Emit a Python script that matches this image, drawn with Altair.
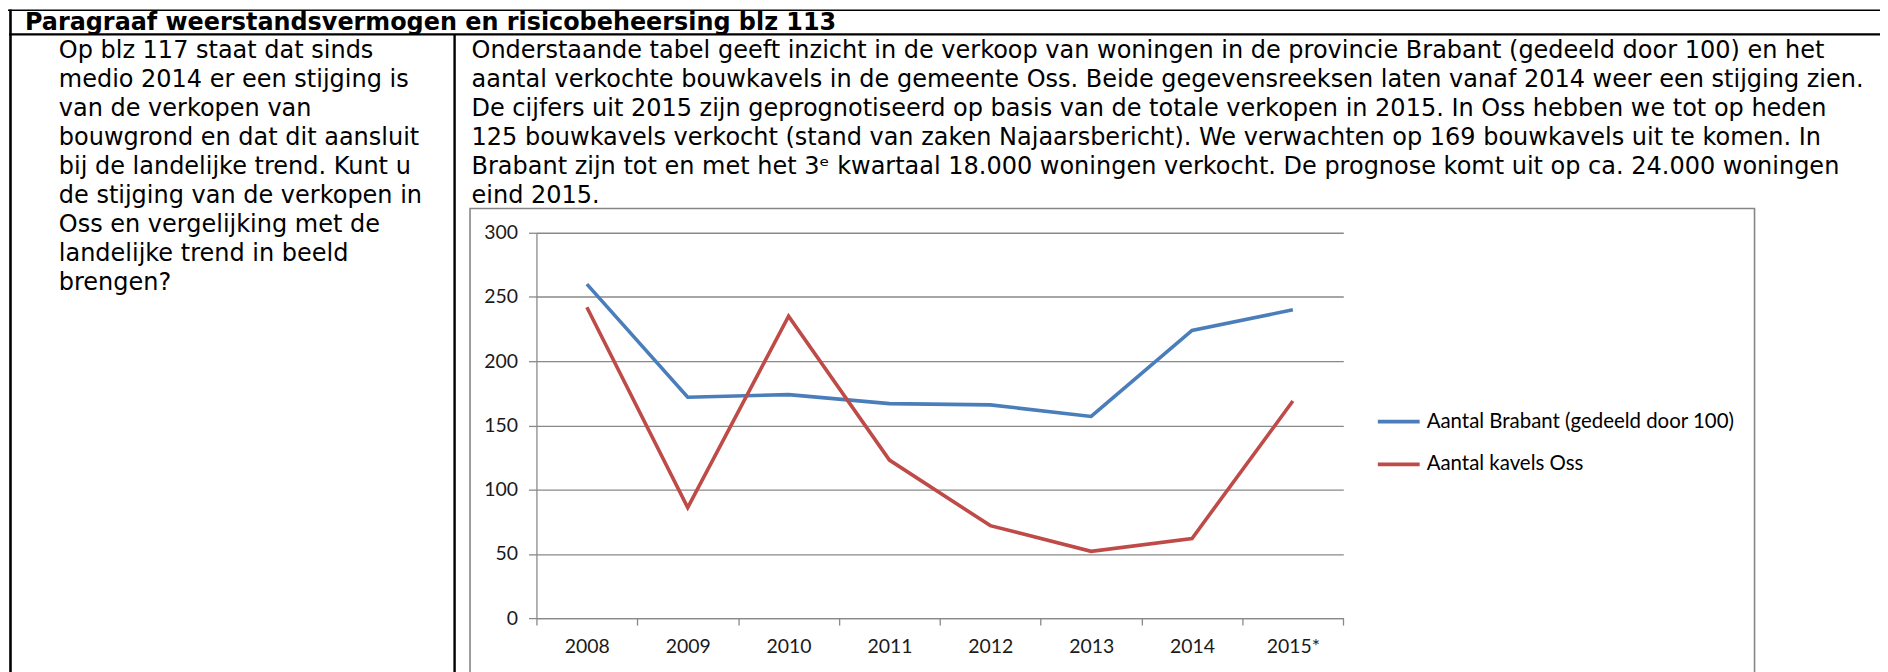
import altair as alt
import pandas as pd

# ---------------- data ----------------
years = ["2008", "2009", "2010", "2011", "2012", "2013", "2014", "2015*"]
brabant = [260, 172, 174, 167, 166, 157, 224, 240]
oss = [242, 86, 235, 123, 72, 52, 62, 169]
series_names = ["Aantal Brabant (gedeeld door 100)", "Aantal kavels Oss"]
y_ticks = [0, 50, 100, 150, 200, 250, 300]

header_text = "Paragraaf weerstandsvermogen en risicobeheersing blz 113"
left_lines = [
    "Op blz 117 staat dat sinds",
    "medio 2014 er een stijging is",
    "van de verkopen van",
    "bouwgrond en dat dit aansluit",
    "bij de landelijke trend. Kunt u",
    "de stijging van de verkopen in",
    "Oss en vergelijking met de",
    "landelijke trend in beeld",
    "brengen?",
]
right_lines = [
    "Onderstaande tabel geeft inzicht in de verkoop van woningen in de provincie Brabant (gedeeld door 100) en het",
    "aantal verkochte bouwkavels in de gemeente Oss. Beide gegevensreeksen laten vanaf 2014 weer een stijging zien.",
    "De cijfers uit 2015 zijn geprognotiseerd op basis van de totale verkopen in 2015. In Oss hebben we tot op heden",
    "125 bouwkavels verkocht (stand van zaken Najaarsbericht). We verwachten op 169 bouwkavels uit te komen. In",
    "Brabant zijn tot en met het 3\u1d49 kwartaal 18.000 woningen verkocht. De prognose komt uit op ca. 24.000 woningen",
    "eind 2015.",
]

# ---------------- layout (page pixels) ----------------
PX0, PY0 = 538.7, 232.3      # plot origin on the page
W, H = 810.3, 387.0          # plot area size
SVG_W, SVG_H = 1880, 664


def px(x):
    return x - PX0


def py(y):
    return y - PY0


BLUE = "#4A7EBB"
RED = "#BE4B48"
GRAY = "#898989"
BODY_FONT = "DejaVu Sans"
CHART_FONT = "Lato"

df = pd.DataFrame({
    "year": years * 2,
    "value": brabant + oss,
    "series": [series_names[0]] * len(years) + [series_names[1]] * len(years),
})

one = alt.Data(values=[{}])

# chart frame
frame = alt.Chart(one).mark_rect(fillOpacity=0, stroke="#868686", strokeWidth=1.6).encode(
    x=alt.value(px(472)), x2=alt.value(px(1762)),
    y=alt.value(py(208)), y2=alt.value(py(720)),
)

lines = alt.Chart(df).mark_line(strokeWidth=3.6).encode(
    x=alt.X(
        "year:N", sort=years, bandPosition=0.5,
        scale=alt.Scale(type="band", paddingInner=0, paddingOuter=0),
        axis=alt.Axis(
            title=None, tickBand="extent", labelAngle=0, grid=False,
            domainColor=GRAY, domainWidth=1.3, tickColor=GRAY, tickWidth=1.3, tickSize=7,
            labelPadding=13, labelFont=CHART_FONT, labelFontSize=19.5, labelColor="#1a1a1a",
        ),
    ),
    y=alt.Y(
        "value:Q",
        scale=alt.Scale(domain=[0, 300], nice=False),
        axis=alt.Axis(
            title=None, values=y_ticks, grid=True, gridColor=GRAY, gridWidth=1.3,
            domainColor=GRAY, domainWidth=1.3, tickColor=GRAY, tickWidth=1.3, tickSize=8,
            labelPadding=11, labelFont=CHART_FONT, labelFontSize=19.5, labelColor="#1a1a1a",
        ),
    ),
    color=alt.Color(
        "series:N",
        scale=alt.Scale(domain=series_names, range=[BLUE, RED]),
        legend=alt.Legend(
            title=None, orient="none", legendX=px(1381.7), legendY=py(420) - 21,
            symbolType="stroke", symbolSize=1764, symbolStrokeWidth=3.8,
            labelFont=CHART_FONT, labelFontSize=20.5, labelColor="#000000", labelLimit=0,
            labelOffset=5, rowPadding=9, padding=0,
        ),
    ),
)


def rule(x1, x2, y1, y2, w):
    return alt.Chart(one).mark_rule(color="black", strokeWidth=w).encode(
        x=alt.value(px(x1)), x2=alt.value(px(x2)),
        y=alt.value(py(y1)), y2=alt.value(py(y2)),
    )


table = [
    rule(8, 1888, 8.75, 8.75, 1.5),     # top border
    rule(9, 1888, 33, 33, 2.2),         # header bottom
    rule(10.5, 10.5, 8, 720, 2.6),      # left border
    rule(456.5, 456.5, 33, 720, 2.4),   # column divider
]

header = alt.Chart(pd.DataFrame({"t": [header_text]})).mark_text(
    align="left", baseline="alphabetic", font=BODY_FONT, fontSize=24, fontWeight="bold", color="black",
).encode(text="t:N", x=alt.value(px(25)), y=alt.value(py(28.3)))

left_text = alt.Chart(pd.DataFrame({"t": ["\n".join(left_lines)]})).mark_text(
    align="left", baseline="alphabetic", font=BODY_FONT, fontSize=24.1, color="black",
    lineBreak="\n", lineHeight=29.1,
).encode(text="t:N", x=alt.value(px(59)), y=alt.value(py(57)))

right_text = alt.Chart(pd.DataFrame({"t": ["\n".join(right_lines)]})).mark_text(
    align="left", baseline="alphabetic", font=BODY_FONT, fontSize=24.1, color="black",
    lineBreak="\n", lineHeight=29.1,
).encode(text="t:N", x=alt.value(px(473.5)), y=alt.value(py(57)))

chart = alt.layer(frame, *table, header, left_text, right_text, lines).properties(
    width=W, height=H,
    autosize=alt.AutoSizeParams(type="none"),
    padding={"left": PX0 - 8, "top": PY0 - 8,
             "right": SVG_W - (PX0 - 8) - W, "bottom": SVG_H - (PY0 - 8) - H},
    background="white",
).configure_view(strokeWidth=0)

chart.save("out.html", embed_options={"renderer": "svg", "actions": False})
